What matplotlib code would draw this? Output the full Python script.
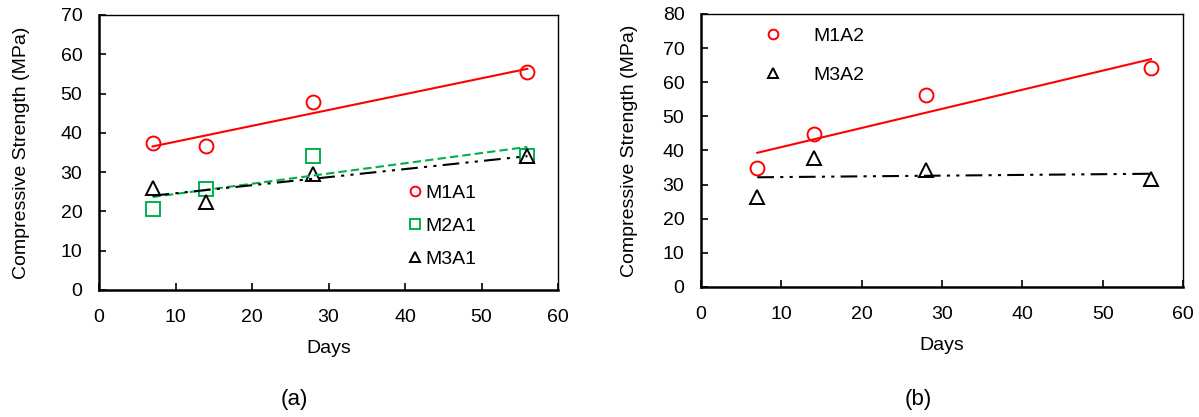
import numpy as np
import matplotlib
matplotlib.use("Agg")
import matplotlib.pyplot as plt

plt.rcParams["font.family"] = ["Liberation Sans", "DejaVu Sans"]

days = [7, 14, 28, 56]
# panel (a)
m1a1 = [37.3, 36.6, 47.8, 55.5]
m2a1 = [20.5, 25.8, 34.2, 34.2]
m3a1 = [26.0, 22.3, 29.5, 34.0]
# panel (b)
m1a2 = [35.0, 44.8, 56.3, 64.3]
m3a2 = [26.5, 37.8, 34.2, 31.7]

RED, GREEN, BLACK = "#FF0000", "#00B050", "#000000"
DASH_DOT_DOT = (0, (8, 3, 1.5, 3, 1.5, 3))
FS = 14


def trend(ax, x, y, color, ls):
    # Excel-style linear trendline over the data range
    k, b = np.polyfit(x, y, 1)
    xx = np.array([min(x), max(x)])
    ax.plot(xx, k * xx + b, color=color, ls=ls, lw=1.5)


def style(ax, ymax, ylabelpad):
    ax.set_xlim(0, 60); ax.set_ylim(0, ymax)
    ax.set_xticks(range(0, 61, 10)); ax.set_yticks(range(0, ymax + 1, 10))
    ax.tick_params(direction="in", length=5, width=1.2, labelsize=FS)
    ax.tick_params(axis="x", pad=14)
    ax.tick_params(axis="y", pad=12)
    for s in ("left", "bottom"):
        ax.spines[s].set_linewidth(1.8)
    for s in ("top", "right"):
        ax.spines[s].set_linewidth(1.0)
    ax.set_xlabel("Days", fontsize=FS, labelpad=10)
    ax.set_ylabel("Compressive Strength (MPa)", fontsize=FS, labelpad=ylabelpad)


fig = plt.figure(figsize=(11.99, 4.17), dpi=100)
axa = fig.add_axes([0.0826, 0.3046, 0.3828, 0.6595])
axb = fig.add_axes([0.5847, 0.3118, 0.4020, 0.6547])

mk = dict(ls="none", ms=10, mew=1.4, mfc="none")
axa.plot(days, m1a1, "o", mec=RED, label="M1A1", **mk)
axa.plot(days, m2a1, "s", mec=GREEN, label="M2A1", **mk)
axa.plot(days, m3a1, "^", mec=BLACK, label="M3A1", **mk)
trend(axa, days, m1a1, RED, "-")
trend(axa, days, m2a1, GREEN, (0, (4, 2)))
trend(axa, days, m3a1, BLACK, DASH_DOT_DOT)
style(axa, 70, 22)
axa.legend(loc="upper left", bbox_to_anchor=(0.678, 0.385), frameon=False,
           fontsize=FS, markerscale=0.7, handlelength=0.5, handletextpad=0.3,
           labelspacing=0.8, borderpad=0, borderaxespad=0)

axb.plot(days, m1a2, "o", mec=RED, label="M1A2", **mk)
axb.plot(days, m3a2, "^", mec=BLACK, label="M3A2", **mk)
trend(axb, days, m1a2, RED, "-")
trend(axb, days, m3a2, BLACK, DASH_DOT_DOT)
style(axb, 80, 18)
axb.legend(loc="upper left", bbox_to_anchor=(0.14, 0.95), frameon=False,
           fontsize=FS, markerscale=0.7, handlelength=0.5, handletextpad=1.8,
           labelspacing=1.1, borderpad=0, borderaxespad=0)

fig.text(294 / 1199, 1 - 399 / 417, "(a)", fontsize=16, ha="center", va="center")
fig.text(918 / 1199, 1 - 399 / 417, "(b)", fontsize=16, ha="center", va="center")

fig.savefig("out.png", dpi=100)
